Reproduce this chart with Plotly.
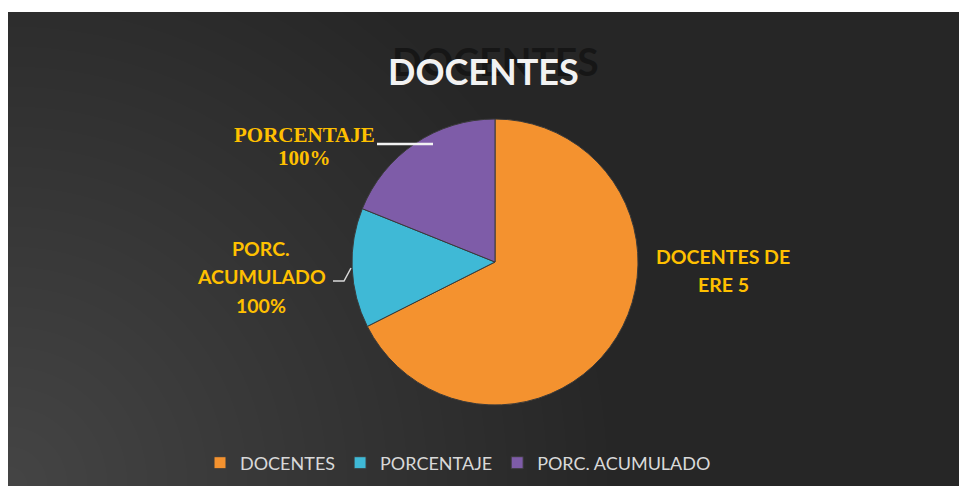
import plotly.graph_objects as go

# ---- data ----
categories = ["DOCENTES", "PORCENTAJE", "PORC. ACUMULADO"]
values = [50, 10, 14]
slice_colors = ["#f4922f", "#3fb9d6", "#7e5ca8"]
data_labels = ["DOCENTES DE<br>ERE 5", "PORC.<br>ACUMULADO<br>100%", "PORCENTAJE<br>100%"]
title_text = "DOCENTES"

# page body adds an 8px offset; coordinates below are given in screenshot pixels
OFF = 8
W, H = 959, 478
BG = "#262626"
GOLD = "#ffc000"

def px(x):
    return (x - OFF) / W

def py(y):
    return 1 - (y - OFF) / H

fig = go.Figure()
fig.add_trace(go.Pie(
    labels=categories,
    values=values,
    marker=dict(colors=slice_colors, line=dict(color="#3a3a3a", width=1)),
    sort=False,
    direction="clockwise",
    rotation=0,
    textinfo="none",
    hoverinfo="label+value+percent",
    domain=dict(x=[px(352), px(638)], y=[py(405), py(119)]),
))

shapes = []
# radial gradient from the bottom-left corner
cx, cy = 8, 486
for i in range(30):
    r = 20 + i * 20
    shapes.append(dict(type="circle", xref="paper", yref="paper",
                       x0=px(cx - r), x1=px(cx + r), y0=py(cy + r), y1=py(cy - r),
                       fillcolor="white", opacity=0.0095, line=dict(width=0), layer="below"))
# white strip at the top
shapes.append(dict(type="rect", xref="paper", yref="paper", x0=0, x1=1, y0=py(12), y1=1.01,
                   fillcolor="white", line=dict(width=0), layer="below"))
# leader lines
shapes.append(dict(type="line", xref="paper", yref="paper", x0=px(377), x1=px(433),
                   y0=py(144), y1=py(144), line=dict(color="#f2f2f2", width=2.5)))
shapes.append(dict(type="path", xref="paper", yref="paper",
                   path=f"M {px(333)},{py(281)} L {px(344)},{py(281)} L {px(351)},{py(268)}",
                   line=dict(color="#d9d9d9", width=1.5)))

def label_lines(text, x, y_first, spacing, font):
    out = []
    for i, line in enumerate(text.split("<br>")):
        out.append(dict(text="<b>" + line + "</b>", x=px(x), y=py(y_first + i * spacing),
                        xref="paper", yref="paper", xanchor="center", yanchor="middle",
                        showarrow=False, font=font))
    return out

annotations = [
    # title shadow
    dict(text="<b>" + title_text + "</b>", x=px(495), y=py(61), xref="paper", yref="paper",
         xanchor="center", yanchor="middle", showarrow=False,
         font=dict(family="Lato", size=39, color="#161616")),
    # title
    dict(text="<b>" + title_text + "</b>", x=px(483), y=py(71), xref="paper", yref="paper",
         xanchor="center", yanchor="middle", showarrow=False,
         font=dict(family="Lato", size=36, color="#f2f2f2")),
]
sans = dict(family="Lato", size=19.5, color=GOLD)
serif = dict(family="Liberation Serif", size=21, color=GOLD)
annotations += label_lines(data_labels[0], 723, 256, 28, sans)
annotations += label_lines(data_labels[1], 261, 248, 28.5, sans)
annotations += label_lines(data_labels[2], 304, 135, 23, serif)

fig.update_layout(
    width=W, height=H,
    margin=dict(l=0, r=0, t=0, b=0),
    paper_bgcolor=BG,
    plot_bgcolor=BG,
    shapes=shapes,
    annotations=annotations,
    showlegend=True,
    legend=dict(orientation="h", x=px(458), xanchor="center", y=py(463), yanchor="middle",
                font=dict(family="Lato", size=18, color="#d9d9d9"),
                bgcolor="rgba(0,0,0,0)", traceorder="normal"),
)

fig.write_html("out.html")
